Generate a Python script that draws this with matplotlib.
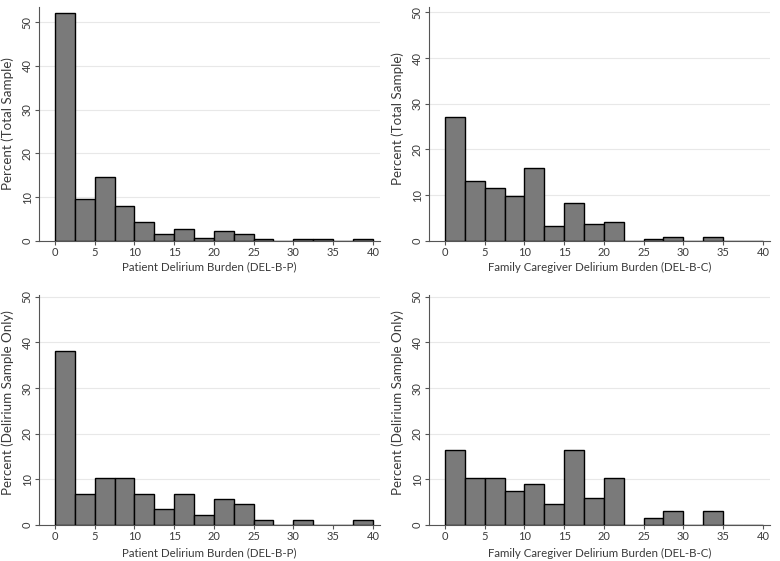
import numpy as np
import matplotlib
matplotlib.use("Agg")
import matplotlib.pyplot as plt

plt.rcParams['font.family'] = ['Lato', 'DejaVu Sans']

bin_edges = np.arange(0, 42.5, 2.5)

pat_total = [52.2, 9.6, 14.5, 8.0, 4.3, 1.5, 2.7, 0.7, 2.2, 1.5, 0.3, 0, 0.3, 0.3, 0, 0.3]
cg_total = [27.1, 13.0, 11.6, 9.8, 15.9, 3.2, 8.3, 3.7, 4.1, 0, 0.3, 0.8, 0, 0.8, 0, 0]
pat_delir = [38.2, 6.9, 10.3, 10.3, 6.9, 3.4, 6.9, 2.2, 5.7, 4.6, 1.1, 0, 1.1, 0, 0, 1.1]
cg_delir = [16.4, 10.4, 10.4, 7.5, 9.0, 4.5, 16.4, 6.0, 10.4, 0, 1.5, 3.0, 0, 3.0, 0, 0]

xlab_p = "Patient Delirium Burden (DEL-B-P)"
xlab_c = "Family Caregiver Delirium Burden (DEL-B-C)"
ylab_t = "Percent (Total Sample)"
ylab_d = "Percent (Delirium Sample Only)"

W, H = 780, 561
fig = plt.figure(figsize=(7.8, 5.61), dpi=100)

# (values, xlabel, ylabel, left px, right px, bottom px, top px, ymax, xlabel offset px)
panels = [
    (pat_total, xlab_p, ylab_t, 39, 380, 240.7, 7, 53.5, 26.5),
    (cg_total, xlab_c, ylab_t, 429, 770, 240.7, 7, 51.2, 26.5),
    (pat_delir, xlab_p, ylab_d, 39, 380, 525, 295, 50.4, 28),
    (cg_delir, xlab_c, ylab_d, 429, 770, 525, 295, 50.4, 28),
]

txt = '#3a3a3a'
for vals, xl, yl, l, r, b, t, ymax, xoff in panels:
    ax = fig.add_axes([l / W, 1 - b / H, (r - l) / W, (b - t) / H])
    ax.bar(bin_edges[:-1], vals, width=2.5, align='edge',
           color='#7a7a7a', edgecolor='black', linewidth=1.0, zorder=3)
    ax.set_xlim(-2, 40.9)
    ax.set_ylim(0, ymax)
    ax.set_xticks(range(0, 41, 5))
    ax.set_yticks(range(0, 51, 10))
    ax.yaxis.grid(True, color='#e8e8e8', linewidth=0.8, zorder=0)
    for s in ['top', 'right']:
        ax.spines[s].set_visible(False)
    for s in ['left', 'bottom']:
        ax.spines[s].set_color('#555555')
        ax.spines[s].set_linewidth(0.8)
    ax.tick_params(axis='both', colors='#555555', labelcolor=txt,
                   labelsize=8, length=3, width=0.8, pad=1.5)
    for lab in ax.get_yticklabels():
        lab.set_rotation(90)
        lab.set_va('center')
    ax.set_xlabel(xl, fontsize=8.3, color=txt, va='center')
    ax.set_ylabel(yl, fontsize=9.6, color=txt, va='center')
    ax.xaxis.set_label_coords(0.5, -xoff / (b - t))
    ax.yaxis.set_label_coords((8 - 39) / (r - l), 0.5 * 50 / ymax * 1.07)

fig.savefig("out.png", dpi=100, facecolor='white')
